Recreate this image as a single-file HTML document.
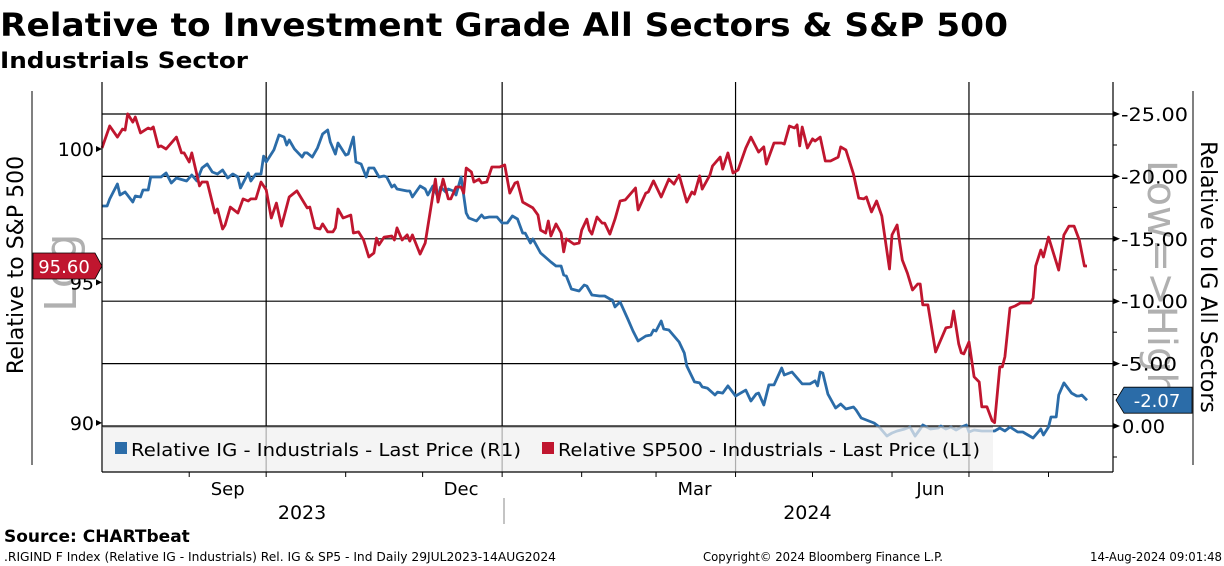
<!DOCTYPE html>
<html><head><meta charset="utf-8"><style>
html,body{margin:0;padding:0;background:#fff;}
svg{display:block;font-family:"DejaVu Sans","Liberation Sans",sans-serif;}
</style></head><body>
<svg id="chart" width="1224" height="566" viewBox="0 0 1224 566">
<text x="0" y="36" font-size="32" font-weight="bold" textLength="1008" lengthAdjust="spacingAndGlyphs">Relative to Investment Grade All Sectors &amp; S&amp;P 500</text>
<text x="0" y="68" font-size="22" font-weight="bold" textLength="248" lengthAdjust="spacingAndGlyphs">Industrials Sector</text>
<g id="grid"></g>
<g id="series"></g>
<g id="legend"></g>
<g id="axes"></g>
<text x="4" y="542" font-size="17" font-weight="bold">Source: CHARTbeat</text>
<text x="4" y="561" font-size="12" textLength="552" lengthAdjust="spacingAndGlyphs">.RIGIND F Index (Relative IG - Industrials) Rel. IG &amp; SP5 - Ind  Daily 29JUL2023-14AUG2024</text>
<text x="703" y="561" font-size="12" textLength="240" lengthAdjust="spacingAndGlyphs">Copyright© 2024 Bloomberg Finance L.P.</text>
<text x="1090" y="561" font-size="12" textLength="132" lengthAdjust="spacingAndGlyphs">14-Aug-2024 09:01:48</text>
</svg>
<script>
// ---- data ----
const redDays=[0,3,6,8,9,10,12,13,15,18,19,20,22,23,25,29,31,32,34,35,38,39,41,44,45,47,48,50,53,55,57,58,60,62,64,66,68,70,73,76,80,81,83,85,86,88,90,91,92,94,97,98,100,102,104,106,107,108,110,113,114,115,117,119,120,121,124,126,130,131,133,135,136,138,140,141,142,144,145,147,148,150,152,155,157,159,161,162,164,168,170,171,173,174,175,177,179,180,181,184,186,187,189,190,191,193,195,196,198,200,202,204,208,209,212,213,215,218,221,223,225,228,230,231,233,234,237,238,241,242,244,246,248,251,253,256,258,259,262,265,266,268,270,271,272,273,275,277,278,280,282,284,287,288,290,293,295,297,298,300,302,304,306,307,308,310,312,314,316,318,319,320,322,325,329,331,332,334,335,336,338,340,342,343,345,347,348,350,351,352,354,356,358,362,363,364,366,367,369,373,375,377,379,381,383,384];
const redValues=[100.04,100.89,100.46,100.77,100.73,101.36,101.04,101.24,100.62,100.81,100.77,100.85,100.08,100.12,100.0,100.46,99.85,99.85,99.50,99.85,98.59,98.74,98.74,97.57,97.72,96.97,97.12,97.79,97.57,98.10,98.02,98.10,98.10,98.74,98.44,97.38,97.94,97.08,98.17,98.40,97.76,97.79,97.01,96.97,97.16,96.86,96.86,97.01,97.72,97.38,97.49,96.82,96.86,96.56,95.93,96.08,96.63,96.38,96.67,96.71,96.56,97.01,96.56,96.75,96.52,96.75,96.04,96.45,98.85,97.98,98.85,98.10,98.10,98.55,98.55,98.32,99.27,99.12,98.74,98.85,98.70,98.74,99.31,99.31,99.39,98.32,98.70,98.74,97.98,97.76,97.49,96.93,96.82,97.27,96.71,97.16,96.82,96.12,96.60,96.41,96.45,96.93,97.34,96.93,96.78,97.42,97.19,97.19,96.78,97.34,98.02,98.06,98.51,97.68,98.32,98.36,98.78,98.17,98.85,98.66,99.00,97.98,98.36,98.28,98.97,98.47,99.00,99.35,99.69,99.23,99.85,99.08,99.20,100.04,100.46,99.88,100.08,99.42,100.23,100.23,100.19,100.89,100.81,100.93,100.12,100.85,100.04,100.39,100.31,100.46,99.54,99.54,99.69,100.08,99.96,99.04,98.13,98.10,98.17,97.61,98.02,97.46,96.15,95.49,96.75,97.12,95.82,95.34,94.72,94.94,94.94,94.18,94.18,92.49,93.35,93.39,93.96,92.78,92.46,92.42,92.85,91.61,91.43,90.56,90.56,90.08,90.01,91.96,91.96,92.32,94.07,94.14,94.25,94.25,94.43,95.60,96.19,95.93,96.67,95.45,96.75,97.08,97.08,96.56,95.60,95.60];
const blueDays=[0,2,3,6,7,9,12,13,15,16,18,19,23,25,27,29,33,35,37,39,41,43,45,47,49,51,53,54,57,58,60,62,63,64,67,69,71,72,73,75,78,79,80,82,84,86,88,89,91,92,95,96,98,99,101,103,104,106,108,110,111,113,114,115,119,120,121,124,126,127,129,131,132,134,135,137,138,140,142,143,146,148,149,151,154,156,158,160,162,164,165,167,168,171,175,177,179,180,181,183,186,188,189,191,194,196,198,199,200,202,205,207,209,212,214,215,216,218,219,221,223,225,227,228,231,233,234,236,239,240,242,244,247,251,253,255,256,258,260,262,265,266,269,273,276,278,279,280,281,283,286,288,290,293,294,296,299,301,303,306,308,310,313,315,317,319,320,323,326,327,329,331,333,335,337,338,340,343,346,348,350,352,354,357,359,363,366,367,369,370,372,373,375,378,380,381,382,384];
const blueValues=[-17.63,-17.63,-18.19,-19.39,-18.51,-18.75,-17.95,-18.43,-18.35,-18.91,-18.91,-19.95,-19.95,-20.27,-19.47,-19.87,-19.63,-20.11,-19.63,-20.67,-20.99,-20.35,-20.19,-20.51,-19.87,-20.19,-19.95,-19.07,-20.27,-19.63,-20.19,-20.19,-21.63,-21.15,-22.12,-23.32,-23.16,-22.52,-22.92,-22.20,-21.55,-21.88,-21.88,-21.55,-22.28,-23.40,-23.72,-22.76,-21.79,-22.68,-21.71,-21.79,-23.16,-21.15,-20.99,-19.95,-20.67,-20.67,-19.95,-20.03,-19.95,-19.15,-19.31,-18.99,-18.83,-18.83,-18.35,-19.23,-18.99,-18.51,-19.23,-18.35,-19.15,-18.75,-18.99,-18.83,-18.51,-19.95,-17.07,-16.67,-16.43,-16.91,-16.67,-16.75,-16.75,-16.27,-16.27,-16.83,-16.59,-15.46,-15.46,-14.66,-14.98,-13.86,-13.14,-12.82,-12.82,-12.10,-12.02,-10.98,-10.82,-11.30,-11.22,-10.50,-10.42,-10.42,-10.18,-10.10,-9.54,-9.94,-8.57,-7.61,-6.81,-7.21,-7.29,-7.69,-7.61,-8.41,-7.77,-7.69,-7.21,-6.73,-5.85,-4.81,-3.53,-3.45,-3.13,-3.04,-2.48,-2.72,-2.64,-3.21,-2.40,-2.88,-2.00,-2.56,-2.64,-1.68,-3.29,-3.29,-4.65,-4.09,-4.33,-3.37,-3.37,-3.61,-3.21,-4.33,-4.25,-2.56,-1.44,-1.76,-1.36,-1.52,-1.28,-0.64,-0.40,-0.24,0.08,0.80,0.56,0.40,0.24,0.08,0.80,0.24,-0.08,0.24,0.16,0,0.24,0.08,0.32,0.08,-0.08,0.48,0.32,0.40,0.40,0.40,0.16,0.40,0.08,0.48,0.48,0.96,0.24,0.72,0.08,-0.72,-0.72,-2.48,-3.45,-2.64,-2.40,-2.40,-2.48,-2.07];
const leftTicks=[100,95,90];
const rightTicks=[-25,-20,-15,-10,-5,0];
const monthLabels=["Sep","Dec","Mar","Jun"];
const monthLabelDays=[49,140,231,323];
const quarterDays=[64,156,247,338];
const monthStartDays=[34,64,95,125,156,187,216,247,277,308,338,369];
const yearLabels=["2023","2024"];
const yearLabelDays=[78,275];
const lastRed="95.60", lastBlue="-2.07";

// ---- scales ----
const X0=102,X1=1113,Y0=82,Y1=472;
const xs=d=>X0+d*2.565;
const yL=v=>149+2600*Math.log(100/v);
const yR=v=>426+v*12.48;
const NS="http://www.w3.org/2000/svg";
function mk(tag,attrs,parent,text){const e=document.createElementNS(NS,tag);for(const k in attrs)e.setAttribute(k,attrs[k]);if(text!=null)e.textContent=text;parent.appendChild(e);return e;}
const grid=document.getElementById('grid'),ser=document.getElementById('series'),leg=document.getElementById('legend'),ax=document.getElementById('axes');

rightTicks.forEach(t=>{const l=mk('line',{x1:X0,x2:X1,y1:yR(t),y2:yR(t),stroke:'#000','stroke-width':1.2},grid);

});
quarterDays.forEach(d=>{const l=mk('line',{x1:xs(d),x2:xs(d),y1:Y0,y2:Y1,stroke:'#000','stroke-width':1.2},grid);

});

// watermarks
const lw=mk('text',{x:0,y:0,'font-size':44,fill:'#b0b0b0',transform:'translate(76,312) rotate(-90)'},grid,'Log');


const hw=mk('text',{x:0,y:0,'font-size':40,fill:'#b0b0b0',transform:'translate(1148,160) rotate(90)'},grid,'Low=>High');



const bp=blueDays.map((d,i)=>xs(d).toFixed(1)+','+yR(blueValues[i]).toFixed(1)).join(' ');
const bl=mk('polyline',{points:bp,fill:'none',stroke:'#2b6ca8','stroke-width':2.8,'stroke-linejoin':'round'},ser);


const rp=redDays.map((d,i)=>xs(d).toFixed(1)+','+yL(redValues[i]).toFixed(1)).join(' ');
const rl=mk('polyline',{points:rp,fill:'none',stroke:'#c0162f','stroke-width':2.8,'stroke-linejoin':'round'},ser);



// legend
const lb=mk('rect',{x:103,y:427,width:890,height:45,fill:'#f0f0f0','fill-opacity':0.72},leg);


mk('line',{x1:103,x2:993,y1:427,y2:427,stroke:'#888','stroke-width':1},leg);
const s1=mk('rect',{x:115,y:442,width:12,height:12,fill:'#2b6ca8'},leg);


const t1=mk('text',{x:131,y:456,'font-size':18,textLength:390,lengthAdjust:'spacingAndGlyphs'},leg,'Relative IG - Industrials - Last Price (R1)');


const s2=mk('rect',{x:542,y:442,width:12,height:12,fill:'#c0162f'},leg);


const t2=mk('text',{x:558,y:456,'font-size':18,textLength:422,lengthAdjust:'spacingAndGlyphs'},leg,'Relative SP500 - Industrials - Last Price (L1)');



// axes
mk('line',{x1:X0,x2:X0,y1:Y0,y2:Y1,stroke:'#000','stroke-width':1.2},ax);
mk('line',{x1:X1,x2:X1,y1:Y0,y2:Y1,stroke:'#000','stroke-width':1.2},ax);
mk('line',{x1:X0,x2:X1,y1:Y1,y2:Y1,stroke:'#000','stroke-width':1.2},ax);
mk('line',{x1:32,x2:32,y1:91,y2:465,stroke:'#000','stroke-width':1},ax);
mk('line',{x1:1193,x2:1193,y1:91,y2:465,stroke:'#000','stroke-width':1},ax);
leftTicks.forEach(t=>{const y=yL(t);
mk('path',{d:`M${X0} ${y} l-6 -3 v6 z`,fill:'#000'},ax);
const e=mk('text',{x:94,y:y+7,'font-size':19,'text-anchor':'end'},ax,String(t));

});
rightTicks.forEach((t,i)=>{const y=yR(t);
mk('path',{d:`M${X1} ${y-3} l7 3 l-7 3 z`,fill:'#000'},ax);
mk('line',{x1:X1,x2:X1+4,y1:y+31,y2:y+31,stroke:'#000'},ax);
const e=mk('text',{x:t===0?1122:1121,y:y+7,'font-size':19,textLength:t===0?43:(t<=-10?67:56),lengthAdjust:'spacingAndGlyphs'},ax,t.toFixed(2));

});
monthStartDays.forEach(d=>{mk('line',{x1:xs(d),x2:xs(d),y1:Y1,y2:Y1+5,stroke:'#000'},ax);});
monthLabels.forEach((m,i)=>{const e=mk('text',{x:xs(monthLabelDays[i]),y:495,'font-size':18,'text-anchor':'middle'},ax,m);

});
yearLabels.forEach((m,i)=>{const e=mk('text',{x:xs(yearLabelDays[i]),y:519,'font-size':19,'text-anchor':'middle'},ax,m);

});
mk('line',{x1:504,x2:504,y1:498,y2:524,stroke:'#888'},ax);

const lt=mk('text',{x:0,y:0,'font-size':22,'text-anchor':'middle',transform:'translate(23,265) rotate(-90)'},ax,'Relative to S&P 500');


const rt=mk('text',{x:0,y:0,'font-size':22,'text-anchor':'middle',transform:'translate(1201,277) rotate(90)'},ax,'Relative to IG All Sectors');



// last value tags
const ry=yL(redValues[redValues.length-1]);
mk('path',{d:`M33 ${ry-13} H95 L102 ${ry} L95 ${ry+13} H33 Z`,fill:'#c0162f',stroke:'#000','stroke-width':0.8},ax);
const rtag=mk('text',{x:64,y:ry+7,'font-size':18,fill:'#fff','text-anchor':'middle'},ax,lastRed);


const by=yR(blueValues[blueValues.length-1]);
mk('path',{d:`M1192 ${by-13} H1124 L1116 ${by} L1124 ${by+13} H1192 Z`,fill:'#2b6ca8',stroke:'#000','stroke-width':0.8},ax);
const btag=mk('text',{x:1157,y:by+7,'font-size':18,fill:'#fff','text-anchor':'middle'},ax,lastBlue);


</script>
</body></html>
